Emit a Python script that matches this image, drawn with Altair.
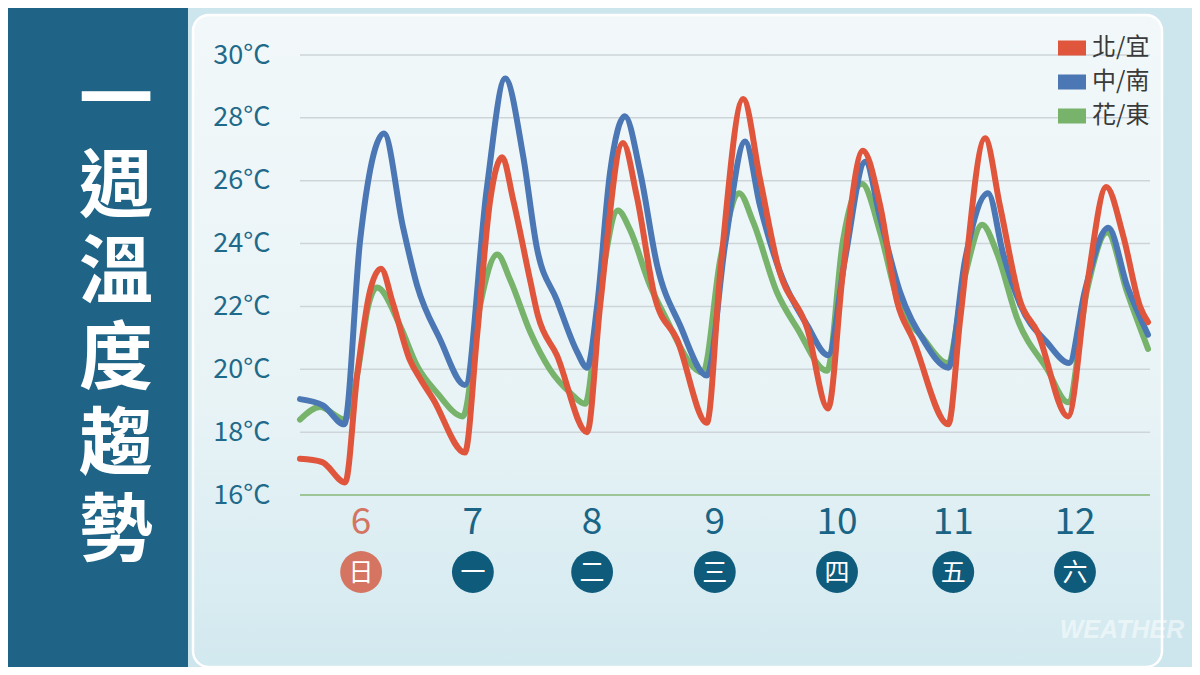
import altair as alt
import pandas as pd

# ---------------- data ----------------
series_names = ["北/宜", "中/南", "花/東"]

north_hours = [0, 4.4, 9.1, 11.5, 14.1, 16.3, 18.7, 22.1, 24.2, 26.8, 33.2, 35.6, 38.3, 40.7, 42.9, 46.3,
               47.9, 51.7, 57.8, 60.4, 65.0, 67.8, 71.5, 75.9, 81.9, 84.6, 89.2, 92.6, 96.2, 102.1, 106.3,
               109.3, 113.3, 116.8, 120.2, 123.4, 130.5, 132.9, 137.9, 140.9, 145.0, 148.4, 154.6, 158.4,
               162.3, 165.7, 169.1, 170.7]
north_temps = [17.15, 17.05, 16.4, 19.8, 22.5, 23.2, 22.1, 20.3, 19.7, 19.05, 17.35, 21.0, 25.4, 26.75, 25.4,
               22.85, 21.7, 20.45, 18.0, 22.0, 27.2, 25.5, 22.25, 20.95, 18.3, 23.1, 28.6, 26.05, 23.3, 21.3,
               18.75, 23.1, 26.95, 25.2, 22.15, 20.95, 18.25, 21.6, 27.35, 25.2, 22.15, 21.2, 18.5, 22.65,
               25.8, 24.25, 22.0, 21.5]

central_hours = [0, 4.6, 8.9, 12.1, 16.9, 20.7, 23.6, 28.2, 33.2, 37.6, 41.3, 44.9, 47.7, 51.7, 55.8, 57.8,
                 59.8, 62.4, 65.4, 68.5, 71.9, 76.5, 81.9, 85.6, 89.6, 92.6, 96.6, 102.1, 106.3, 109.7,
                 113.8, 116.8, 120.8, 125.4, 130.5, 133.9, 138.5, 141.5, 145.0, 150.4, 154.8, 158.0, 162.7,
                 166.5, 170.7]
central_temps = [19.05, 18.85, 18.25, 24.1, 27.5, 24.55, 22.65, 20.95, 19.5, 25.75, 29.25, 26.8, 23.85, 22.2,
                 20.55, 20.05, 22.0, 26.25, 28.05, 26.25, 23.3, 21.4, 19.8, 24.0, 27.25, 25.2, 23.1, 21.4,
                 20.45, 23.5, 26.6, 24.8, 22.45, 20.95, 20.05, 23.5, 25.6, 23.7, 22.05, 20.85, 20.2, 22.5,
                 24.5, 22.65, 21.1]

east_hours = [0, 4.0, 9.1, 11.7, 13.7, 15.5, 20.1, 23.6, 27.6, 32.8, 36.2, 39.7, 42.3, 46.3, 50.3, 54.4,
              57.4, 60.4, 64.0, 66.4, 70.5, 73.1, 81.1, 84.6, 88.4, 91.2, 96.0, 100.1, 106.1, 109.3, 113.1,
              116.8, 120.2, 125.4, 130.3, 133.9, 137.3, 140.3, 144.4, 150.4, 154.6, 158.4, 162.5, 166.5, 170.7]
east_temps = [18.4, 18.8, 18.4, 20.0, 22.0, 22.6, 21.4, 20.1, 19.25, 18.5, 22.0, 23.65, 22.85, 21.2, 20.0,
              19.25, 18.9, 22.5, 25.05, 24.45, 22.65, 21.8, 19.9, 23.5, 25.6, 24.7, 22.45, 21.3, 19.95, 24.1,
              25.9, 24.35, 22.25, 21.0, 20.2, 23.0, 24.6, 23.7, 21.6, 20.0, 18.95, 22.5, 24.35, 22.45, 20.65]

day_hours = [12.3, 34.8, 58.8, 83.5, 108.1, 131.5, 156.0]
day_labels = ["6", "7", "8", "9", "10", "11", "12"]
weekday_labels = ["日", "一", "二", "三", "四", "五", "六"]
y_ticks = [16, 18, 20, 22, 24, 26, 28, 30]
title_text = "一\n週\n溫\n度\n趨\n勢"
watermark_text = "WEATHER"

# ---------------- styles ----------------
RED, BLUE, GREEN = "#e0563d", "#4b77b4", "#77b36b"
TEAL = "#0f5b7c"
SALMON = "#d47461"
CJK = "Noto Sans CJK TC"

rows = []
for name, hrs, tmps in zip(series_names,
                           [north_hours, central_hours, east_hours],
                           [north_temps, central_temps, east_temps]):
    for h, t in zip(hrs, tmps):
        rows.append({"series": name, "hour": h, "temp": t})
lines_df = pd.DataFrame(rows)
days_df = pd.DataFrame({"hour": day_hours, "day": day_labels, "wd": weekday_labels})
ticks_df = pd.DataFrame({"temp": y_ticks})
one_df = pd.DataFrame({"k": [0]})

x_scale = alt.Scale(domain=[0, 171.1], nice=False, zero=False)
y_scale = alt.Scale(domain=[16, 30], nice=False, zero=False)

y_axis = alt.Axis(values=y_ticks, labelExpr="datum.value + '°C'", grid=False, domain=False,
                  ticks=False, tickSize=0, labelPadding=30, labelFontSize=27, labelColor="#1f6a8a",
                  labelFont=CJK, title=None, zindex=1)
y_enc = alt.Y("temp:Q", scale=y_scale, axis=y_axis)
x_enc = alt.X("hour:Q", scale=x_scale, axis=None)

legend_symbol = "M-1,-0.35H1V0.35H-1Z"
color_enc = alt.Color(
    "series:N",
    scale=alt.Scale(domain=series_names, range=[RED, BLUE, GREEN]),
    legend=alt.Legend(orient="none", legendX=758, legendY=-21, title=None,
                      symbolType=legend_symbol, symbolSize=400, symbolStrokeWidth=8,
                      clipHeight=28, labelFontSize=24, labelFont=CJK, labelColor="#3a3a3a",
                      rowPadding=6, labelOffset=6, padding=0),
)

# ---------------- decoration layers ----------------
left_panel = alt.Chart(one_df).mark_rect(color="#1f6486").encode(
    x=alt.value(-300), x2=alt.value(-112), y=alt.value(-60), y2=alt.value(620))

panel = alt.Chart(one_df).mark_rect(
    fill=alt.LinearGradient(gradient="linear",
                            stops=[alt.GradientStop(color="#f2f8fa", offset=0),
                                   alt.GradientStop(color="#e8f3f6", offset=0.6),
                                   alt.GradientStop(color="#d2e9ef", offset=1)],
                            x1=0, x2=0, y1=0, y2=1),
    stroke="white", strokeWidth=2.5, cornerRadius=16,
).encode(x=alt.value(-107), x2=alt.value(862), y=alt.value(-40), y2=alt.value(612))

grid = alt.Chart(ticks_df).mark_rule(strokeWidth=1.5).encode(
    y=y_enc,
    color=alt.condition("datum.temp == 16", alt.value("#86b978"), alt.value("#cdd5d9")),
)

watermark = alt.Chart(one_df).mark_text(
    text=watermark_text, fontStyle="italic", fontWeight="bold", fontSize=25,
    font="Liberation Sans", color="white", opacity=0.5,
).encode(x=alt.value(822), y=alt.value(575))

def line_layer(name):
    return alt.Chart(lines_df).transform_filter(alt.datum.series == name).mark_line(
        interpolate="monotone", strokeWidth=6, strokeCap="round", strokeJoin="round"
    ).encode(x=x_enc, y=y_enc, color=color_enc)

green_line = line_layer("花/東")
blue_line = line_layer("中/南")
red_line = line_layer("北/宜")

circles = alt.Chart(days_df).mark_circle(size=1750, opacity=1).encode(
    x=x_enc, y=alt.value(517),
    color=alt.condition("datum.wd == '日'", alt.value(SALMON), alt.value(TEAL)),
)
wd_text = alt.Chart(days_df).mark_text(fontSize=25, font=CJK, color="white", baseline="middle").encode(
    x=x_enc, y=alt.value(518), text="wd:N")
day_text = alt.Chart(days_df).mark_text(fontSize=37, font=CJK, baseline="middle").encode(
    x=x_enc, y=alt.value(468), text="day:N",
    color=alt.condition("datum.wd == '日'", alt.value(SALMON), alt.value("#1a6485")),
)

title = alt.Chart(one_df).mark_text(
    text=title_text, lineBreak="\n", lineHeight=86, fontSize=74, fontWeight="bold",
    font=CJK, color="white", baseline="top", align="center",
).encode(x=alt.value(-184), y=alt.value(12))

chart = alt.layer(
    left_panel, panel, grid, watermark, green_line, blue_line, red_line,
    circles, wd_text, day_text, title,
).properties(
    width=850, height=440,
    padding={"left": 292, "top": 47, "right": 42, "bottom": 172},
    autosize=alt.AutoSizeParams(type="none"),
    background="#cde6ee",
).configure_view(stroke=None)

chart.save("out.html", embed_options={"renderer": "svg", "actions": False})
